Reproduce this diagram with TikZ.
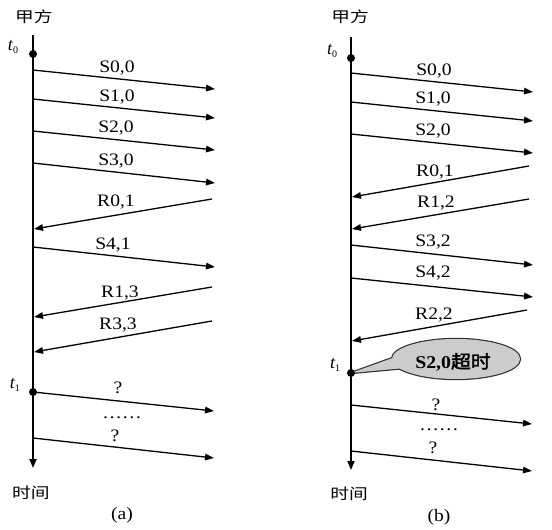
\documentclass[tikz,border=0pt]{standalone}
\usepackage{fontspec}
\setmainfont{Liberation Serif}
\newfontfamily\cjk[AutoFakeBold=2]{Noto Sans CJK SC}
\usetikzlibrary{arrows.meta}
\tikzset{
  timeline/.style={line width=1.8pt,-{Triangle[length=9pt,width=7pt]}},
  msg/.style={line width=1.3pt,-{Triangle[length=9pt,width=6.5pt]}},
  dot/.style={circle,fill=black,inner sep=0pt,minimum size=8pt},
  lbl/.style={font=\fontsize{17.5}{19}\selectfont,xscale=1.12,inner sep=0pt},
  dotslbl/.style={lbl,text height=2.5pt,text depth=0pt},
  cjklbl/.style={font=\cjk\fontsize{15}{17}\selectfont,xscale=1.25,inner sep=0pt},
  tlbl/.style={font=\fontsize{18}{19}\selectfont,inner sep=0pt},
  calloutfill/.style={fill=black!20},
  calloutline/.style={draw=black!80,line width=2.4pt,line join=round},
}
\newcommand{\tsub}[1]{{\itshape t}\raisebox{-3pt}{\fontsize{10}{10}\selectfont #1}}
\begin{document}
\begin{tikzpicture}[x=1pt,y=-1pt]
\useasboundingbox (0,0) rectangle (552,530);

%================ panel (a) ================
\coordinate (aTop) at (33,35);
\coordinate (aBot) at (33,468);
\draw[timeline] (aTop) -- (aBot);
\node[dot] (at0) at (33,54) {};
\node[dot] (at1) at (33,392) {};
\node[cjklbl] (aparty) at (34,17) {甲方};
\node[cjklbl] (atime) at (31,493) {时间};
\node[tlbl] (lat0) at (13,47) {\tsub{0}};
\node[tlbl] (lat1) at (15,385) {\tsub{1}};
\node[lbl] (acap) at (122,515) {(a)};

\coordinate (a1s) at (33,70);   \coordinate (a1e) at (215,89);
\coordinate (a2s) at (33,99);   \coordinate (a2e) at (215,118);
\coordinate (a3s) at (33,131);  \coordinate (a3e) at (215,150);
\coordinate (a4s) at (33,163);  \coordinate (a4e) at (215,183);
\coordinate (a5s) at (212,199); \coordinate (a5e) at (34,229);
\coordinate (a6s) at (33,247);  \coordinate (a6e) at (215,267);
\coordinate (a7s) at (212,287); \coordinate (a7e) at (34,317);
\coordinate (a8s) at (212,321); \coordinate (a8e) at (34,352);
\coordinate (a9s) at (at1.center); \coordinate (a9e) at (214,411);
\coordinate (a10s) at (33,438); \coordinate (a10e) at (214,458);
\foreach \i in {1,...,10} {\draw[msg] (a\i s) -- (a\i e);}

\node[lbl] (la1) at (117,68) {S0,0};
\node[lbl] (la2) at (117,97) {S1,0};
\node[lbl] (la3) at (116,128) {S2,0};
\node[lbl] (la4) at (116,161) {S3,0};
\node[lbl] (la5) at (116,202) {R0,1};
\node[lbl] (la6) at (113,245) {S4,1};
\node[lbl] (la7) at (120,293) {R1,3};
\node[lbl] (la8) at (118,325) {R3,3};
\node[lbl] (la9) at (118,388) {?};
\node[lbl] (la10) at (115,436) {?};
\node[dotslbl] (ladots) at (122,417) {……};

%================ panel (b) ================
\coordinate (bTop) at (351,37);
\coordinate (bBot) at (351,470);
\draw[timeline] (bTop) -- (bBot);
\node[dot] (bt0) at (351,58) {};
\node[cjklbl] (bparty) at (350,17) {甲方};
\node[cjklbl] (btime) at (349,494) {时间};
\node[tlbl] (lbt0) at (332,51) {\tsub{0}};
\node[tlbl] (lbt1) at (335,365) {\tsub{1}};
\node[lbl] (bcap) at (439,517) {(b)};

\coordinate (b1s) at (351,73);   \coordinate (b1e) at (533,92);
\coordinate (b2s) at (351,102);  \coordinate (b2e) at (533,121);
\coordinate (b3s) at (351,134);  \coordinate (b3e) at (533,153);
\coordinate (b4s) at (529,166);  \coordinate (b4e) at (352,197);
\coordinate (b5s) at (529,199);  \coordinate (b5e) at (352,229);
\coordinate (b6s) at (351,245);  \coordinate (b6e) at (533,265);
\coordinate (b7s) at (351,278);  \coordinate (b7e) at (533,297);
\coordinate (b8s) at (527,310);  \coordinate (b8e) at (352,341);
\coordinate (b9s) at (351,405);  \coordinate (b9e) at (532,424);
\coordinate (b10s) at (351,451); \coordinate (b10e) at (532,471);
\foreach \i in {1,...,10} {\draw[msg] (b\i s) -- (b\i e);}

\node[lbl] (lb1) at (434,71) {S0,0};
\node[lbl] (lb2) at (433,99) {S1,0};
\node[lbl] (lb3) at (433,131) {S2,0};
\node[lbl] (lb4) at (435,172) {R0,1};
\node[lbl] (lb5) at (436,203) {R1,2};
\node[lbl] (lb6) at (433,242) {S3,2};
\node[lbl] (lb7) at (433,273) {S4,2};
\node[lbl] (lb8) at (434,315) {R2,2};
\node[lbl] (lb9) at (436,405) {?};
\node[lbl] (lb10) at (433,448) {?};
\node[dotslbl] (lbdots) at (439,429) {……};

% callout
\coordinate (bt1c) at (351,373);
\coordinate (cc) at (456,359);
\coordinate (tailA) at (398,356);
\coordinate (tailB) at (405,368);
\draw[calloutline] (cc) ellipse [x radius=64pt, y radius=20pt];
\draw[calloutline] (bt1c) -- (tailA) -- (tailB) -- cycle;
\fill[calloutfill] (cc) ellipse [x radius=64pt, y radius=20pt];
\fill[calloutfill] (bt1c) -- (tailA) -- (tailB) -- cycle;
\node[dot] (bt1) at (bt1c) {};
\node[font=\fontsize{18}{19}\selectfont\bfseries,xscale=1.1,inner sep=0pt] (ctext) at (453,362) {S2,0{\cjk\bfseries 超时}};
\end{tikzpicture}
\end{document}
